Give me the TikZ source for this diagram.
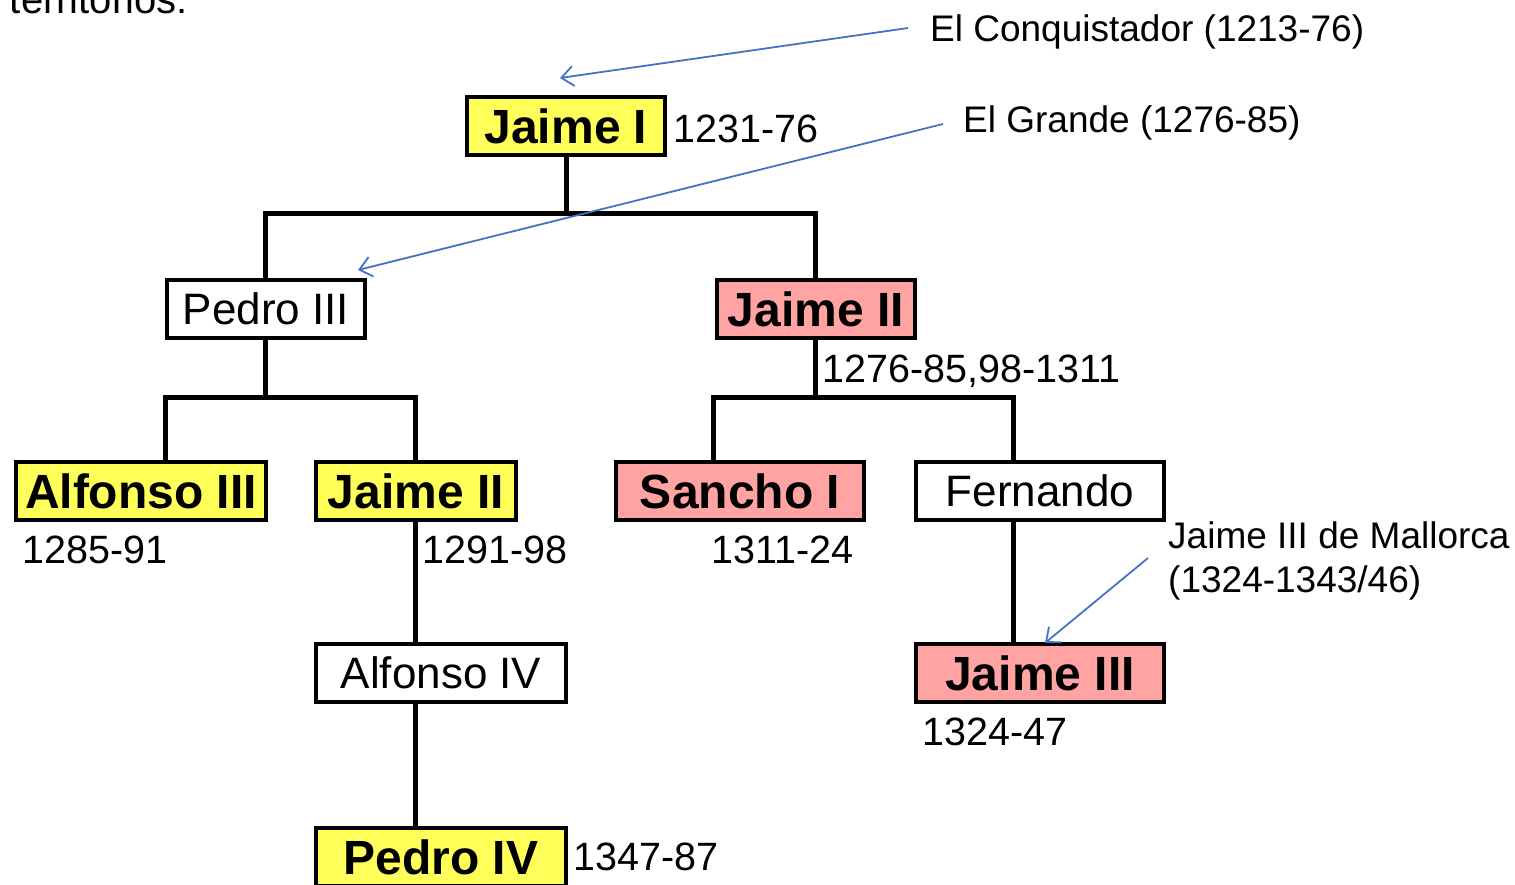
\documentclass[tikz,border=0pt]{standalone}
\usepackage{fontspec}
\setmainfont{Liberation Sans}
\usetikzlibrary{arrows.meta,calc}
\definecolor{ky}{RGB}{255,255,90}
\definecolor{kp}{RGB}{255,163,163}
\definecolor{ab}{RGB}{68,114,196}
\begin{document}
\begin{tikzpicture}[x=1pt,y=-1pt,
  box/.style={draw=black, line width=4pt, inner sep=0pt, minimum height=58pt},
  kb/.style={box, font=\fontsize{48}{50}\selectfont\bfseries},
  kr/.style={box, fill=white, font=\fontsize{44}{46}\selectfont},
  yel/.style={kb, fill=ky},
  pink/.style={kb, fill=kp},
  date/.style={anchor=base west, inner sep=0pt, font=\fontsize{39.5}{42}\selectfont},
  note/.style={anchor=base west, inner sep=0pt, font=\fontsize{37}{44}\selectfont},
  conn/.style={line width=5pt, black},
  ann/.style={draw=ab, line width=1.8pt, -{Straight Barb[length=12pt,width=20pt]}}]
\useasboundingbox (0,0) rectangle (1515,884);

% boxes
\node[yel, minimum width=198pt] (j1) at (566,126) {Jaime I};
\node[kr, minimum width=198pt] (p3) at (266,309) {Pedro III};
\node[pink, minimum width=198pt] (j2r) at (816,309) {Jaime II};
\node[yel, minimum width=250pt] (a3) at (141,491) {Alfonso III};
\node[yel, minimum width=200pt] (j2y) at (416,491) {Jaime II};
\node[pink, minimum width=248pt] (s1) at (740,491) {Sancho I};
\node[kr, minimum width=248pt] (fe) at (1040,491) {Fernando};
\node[kr, minimum width=250pt] (a4) at (441,673) {Alfonso IV};
\node[pink, minimum width=248pt] (j3) at (1040,673) {Jaime III};
\node[yel, minimum width=250pt] (p4) at (441,857) {Pedro IV};

% connectors
\coordinate (k1) at ($(j1.south)+(0,56)$);
\draw[conn] (j1.south) -- (k1);
\draw[conn] ($(p3.north)+(-1,0)$) |- (k1) -| ($(j2r.north)+(-1,0)$);
\coordinate (k2) at ($(p3.south)+(-1,57)$);
\draw[conn] ($(p3.south)+(-1,0)$) -- (k2);
\draw[conn] ($(a3.north)+(24,0)$) |- (k2) -| ($(j2y.north)+(-1,0)$);
\coordinate (k3) at ($(j2r.south)+(-1,57)$);
\draw[conn] ($(j2r.south)+(-1,0)$) -- (k3);
\draw[conn] ($(s1.north)+(-27,0)$) |- (k3) -| ($(fe.north)+(-27,0)$);
\draw[conn] ($(j2y.south)+(-1,0)$) -- ($(a4.north)+(-26,0)$);
\draw[conn] ($(fe.south)+(-27,0)$) -- ($(j3.north)+(-27,0)$);
\draw[conn] ($(a4.south)+(-26,0)$) -- ($(p4.north)+(-26,0)$);

% dates
\node[date] (d1) at (673,142) {1231-76};
\node[date] (d2) at (822,382) {1276-85,98-1311};
\node[date] (d3) at (22,563) {1285-91};
\node[date] (d4) at (422,563) {1291-98};
\node[date] (d5) at (711,563) {1311-24};
\node[date] (d6) at (922,745) {1324-47};
\node[date] (d7) at (573,870) {1347-87};

% notes
\node[note, anchor=base east, font=\fontsize{40}{44}\selectfont] (t0) at (188,13) {territorios:};
\node[note] (n1) at (930,41) {El Conquistador (1213-76)};
\node[note] (n2) at (963,132) {El Grande (1276-85)};
\node[note] (n3) at (1168,548) {Jaime III de Mallorca};
\node[note] (n4) at (1168,592) {(1324-1343/46)};

% annotation arrows
\coordinate (a1s) at (908,28);  \coordinate (a1e) at (560,78);
\coordinate (a2s) at (943,124); \coordinate (a2e) at (358,270);
\coordinate (a3s) at (1148,558); \coordinate (a3e) at (1045,643);
\draw[ann] (a1s) -- (a1e);
\draw[ann] (a2s) -- (a2e);
\draw[ann] (a3s) -- (a3e);
\end{tikzpicture}
\end{document}
